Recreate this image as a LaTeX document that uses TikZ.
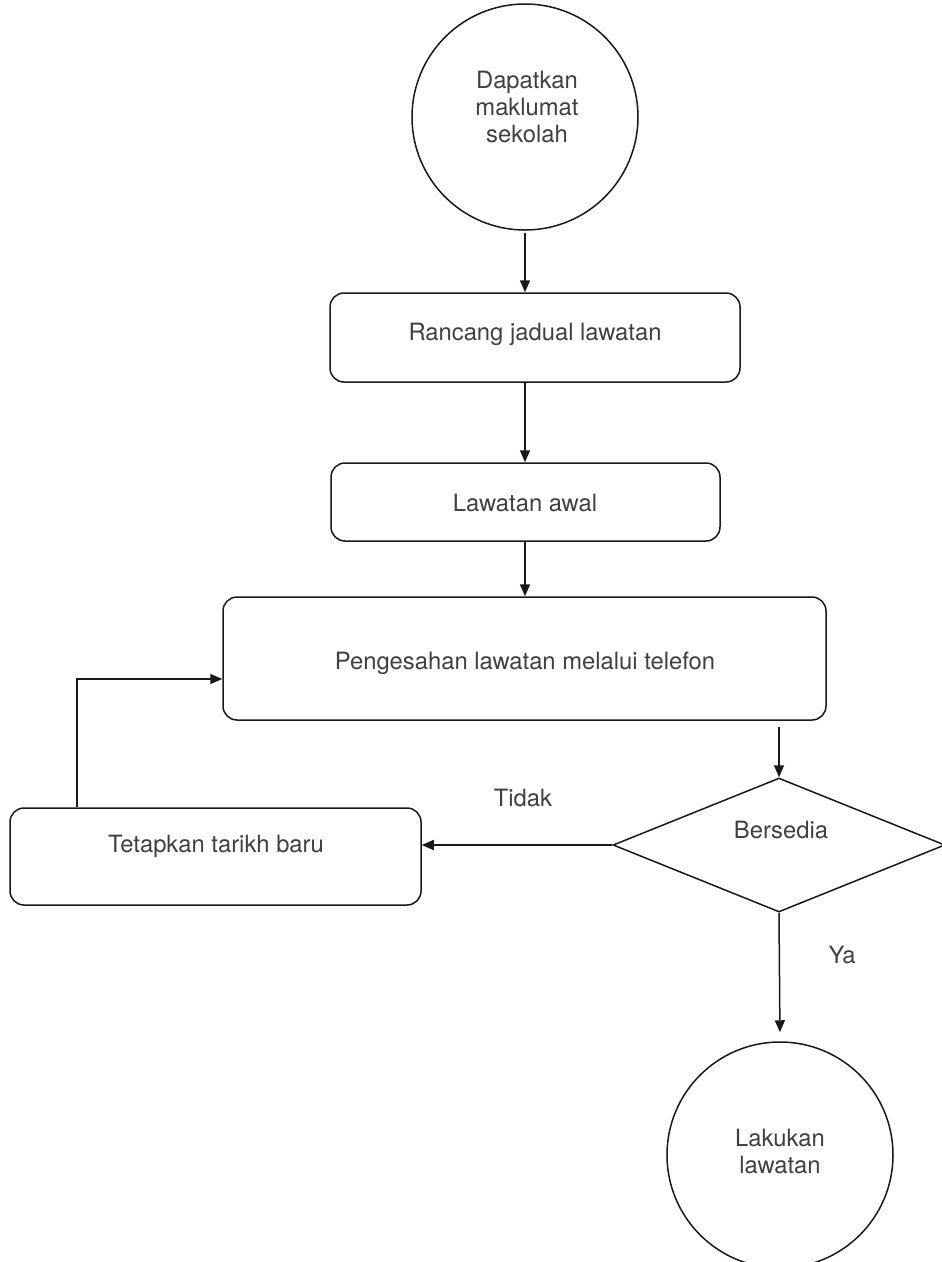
\documentclass[tikz,border=0pt]{standalone}
\usepackage{fontspec}
\setmainfont{TeX Gyre Heros}
\usetikzlibrary{arrows.meta,shapes.geometric}
\begin{document}
\begin{tikzpicture}[x=1pt,y=-1pt,
  line width=1.5pt,
  every node/.style={font=\fontsize{23.8}{27}\selectfont, text=black!75},
  arr/.style={draw=black!90,-{Triangle[length=12pt,width=10pt]}},
  rbox/.style={draw=black!90,rounded corners=14pt,inner sep=0pt},
  circ/.style={draw=black!90,circle,inner sep=0pt,minimum size=226pt},
  txt/.style={align=center,inner sep=0pt}]
\useasboundingbox[fill=white] (0,0) rectangle (942,1262);
% nodes
\node[circ] (c1) at (525,117) {};
\node[txt] (t1) at (527,107) {Dapatkan\\maklumat\\sekolah};
\node[rbox,minimum width=410pt,minimum height=89pt] (b1) at (535,337.5) {};
\node[txt] (t2) at (535,334) {Rancang jadual lawatan};
\node[rbox,minimum width=389pt,minimum height=78pt] (b2) at (525.5,502) {};
\node[txt] (t3) at (525,503) {Lawatan awal};
\node[rbox,minimum width=603pt,minimum height=123pt] (b3) at (524.5,658.5) {};
\node[txt] (t4) at (525,663) {Pengesahan lawatan melalui telefon};
\node[rbox,minimum width=411pt,minimum height=97pt] (b4) at (215.5,856.5) {};
\node[txt] (t5) at (216,846) {Tetapkan tarikh baru};
\node[draw=black!90,diamond,inner sep=0pt,minimum width=332pt,minimum height=134pt] (d) at (779,845) {};
\node[txt] (t6) at (781,830) {Bersedia};
\node[circ] (c2) at (780,1155) {};
\node[txt] (t7) at (780,1151) {Lakukan\\lawatan};
\node[txt] (l1) at (523,798) {Tidak};
\node[txt] (l2) at (842,955) {Ya};
% connectors
\draw[arr] (c1.south) ++(0,2) -- (b1.north -| c1.south);
\draw[arr] (b1.south -| c1.south) -- (b2.north -| c1.south);
\draw[arr] (b2.south -| c1.south) -- (b3.north -| c1.south);
\draw[arr] (b3.south -| d.north) ++(0,6) -- (d.north);
\draw[arr] (d.west) -- (b4.east |- d.west);
\coordinate (lp) at (77,679);
\draw[arr] (b4.north -| lp) -- (lp) -- (lp -| b3.west);
\draw[arr,shorten >=9pt] (d.south) -- (c2.north);
\end{tikzpicture}
\end{document}
